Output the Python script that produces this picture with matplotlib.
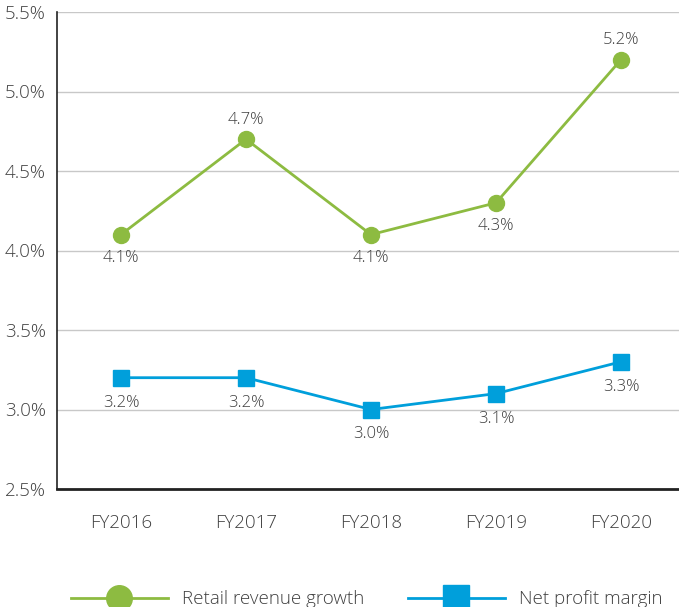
import matplotlib
matplotlib.use('Agg')
import matplotlib.pyplot as plt

plt.rcParams['font.family'] = ['Open Sans', 'DejaVu Sans']
plt.rcParams['font.weight'] = 'light'

years = ['FY2016', 'FY2017', 'FY2018', 'FY2019', 'FY2020']
revenue_growth = [4.1, 4.7, 4.1, 4.3, 5.2]
profit_margin = [3.2, 3.2, 3.0, 3.1, 3.3]
revenue_label_pos = ['below', 'above', 'below', 'below', 'above']
yticks = [2.5, 3.0, 3.5, 4.0, 4.5, 5.0, 5.5]

green = '#8dbb41'
blue = '#009fdb'
text_c = '#404040'

fig = plt.figure(figsize=(6.79, 6.07), dpi=100)
ax = fig.add_axes([57/679, 1-489/607, 1-57/679, (489-12)/607])

x = list(range(len(years)))
ax.plot(x, revenue_growth, color=green, lw=2, marker='o', ms=11.5, label='Retail revenue growth', zorder=3)
ax.plot(x, profit_margin, color=blue, lw=2, marker='s', ms=11.5, label='Net profit margin', zorder=3)

for xi, v, pos in zip(x, revenue_growth, revenue_label_pos):
    dy = 14 if pos == 'above' else -17
    ax.annotate(f'{v:.1f}%', (xi, v), xytext=(0, dy), textcoords='offset points',
                ha='center', va='center', fontsize=12, color=text_c)
for xi, v in zip(x, profit_margin):
    ax.annotate(f'{v:.1f}%', (xi, v), xytext=(0, -18), textcoords='offset points',
                ha='center', va='center', fontsize=12, color=text_c)

ax.set_xlim(-0.512, 4.464)
ax.set_ylim(2.5, 5.5)
ax.set_yticks(yticks)
ax.set_yticklabels([f'{t:.1f}%' for t in yticks])
ax.set_xticks(x)
ax.set_xticklabels(years)
ax.tick_params(axis='y', length=0, pad=8, labelsize=13.5, labelcolor=text_c)
ax.tick_params(axis='x', length=0, pad=18, labelsize=13.5, labelcolor=text_c)
ax.grid(axis='y', color='#c8c8c8', lw=1)
ax.set_axisbelow(True)
for s in ['top', 'right']:
    ax.spines[s].set_visible(False)
ax.spines['left'].set_color('#222222')
ax.spines['left'].set_linewidth(1.2)
ax.spines['bottom'].set_color('#222222')
ax.spines['bottom'].set_linewidth(2)
ax.spines['left'].set_zorder(4)

handles, labels = ax.get_legend_handles_labels()
leg = fig.legend(handles, labels, loc='lower center', bbox_to_anchor=(0.54, -0.03), ncol=2,
                 frameon=False, handlelength=5.2, columnspacing=2.3, handletextpad=0.75,
                 fontsize=13.5, markerscale=1.6, labelcolor=text_c)

fig.savefig('out.png', dpi=100)
